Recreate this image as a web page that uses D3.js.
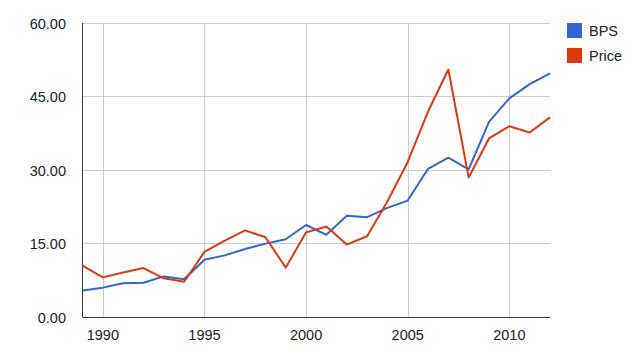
<!DOCTYPE html>
<html><head><meta charset="utf-8">
<script src="https://cdn.jsdelivr.net/npm/d3@7"></script>
<style>body{margin:0;background:#fff}svg{display:block}</style>
</head><body>
<svg id="c" width="640" height="357"></svg>
<script>
const years = [1989,1990,1991,1992,1993,1994,1995,1996,1997,1998,1999,2000,2001,2002,2003,2004,2005,2006,2007,2008,2009,2010,2011,2012];
const bps =   [5.3,5.9,6.8,6.9,8.2,7.6,11.6,12.5,13.8,14.9,15.8,18.7,16.7,20.6,20.3,22.2,23.7,30.2,32.5,30.1,39.8,44.6,47.5,49.7];
const price = [10.4,8.0,9.0,9.9,7.8,7.1,13.2,15.5,17.6,16.2,10.0,17.2,18.4,14.7,16.4,23.5,31.6,41.9,50.5,28.4,36.4,38.9,37.6,40.7];
const seriesNames = ["BPS","Price"];
const colors = ["#3366cc","#dc3912"];
const yTicks = [0,15,30,45,60];
const xTicks = [1990,1995,2000,2005,2010];

const svg = d3.select("#c");
const L=82.5, R=550, T=23, B=316.5;
const x = d3.scaleLinear().domain([1989,2012]).range([L,R]);
const y = d3.scaleLinear().domain([0,60]).range([B,T]);
const font = "'Liberation Sans', Arial, sans-serif";
const fs = 14.5;

// grid
svg.append("g").selectAll("line").data(yTicks.slice(1)).join("line")
  .attr("x1",L).attr("x2",R).attr("y1",d=>Math.round(y(d))+0.5).attr("y2",d=>Math.round(y(d))+0.5)
  .attr("stroke","#cccccc").attr("stroke-width",1);
svg.append("g").selectAll("line").data(xTicks).join("line")
  .attr("y1",T).attr("y2",B).attr("x1",d=>Math.round(x(d))+0.5).attr("x2",d=>Math.round(x(d))+0.5)
  .attr("stroke","#cccccc").attr("stroke-width",1);

// axes lines
svg.append("line").attr("x1",L).attr("x2",L).attr("y1",T).attr("y2",B+0.5).attr("stroke","#333").attr("stroke-width",1);
svg.append("line").attr("x1",L).attr("x2",R).attr("y1",Math.round(B)+0.5).attr("y2",Math.round(B)+0.5).attr("stroke","#333").attr("stroke-width",1);

// tick labels
svg.append("g").selectAll("text").data(yTicks).join("text")
  .attr("x",66).attr("y",d=>y(d)+6).attr("text-anchor","end")
  .attr("font-family",font).attr("font-size",fs).attr("fill","#222")
  .text(d=>d3.format(".2f")(d));
svg.append("g").selectAll("text").data(xTicks).join("text")
  .attr("x",d=>x(d)).attr("y",340).attr("text-anchor","middle")
  .attr("font-family",font).attr("font-size",fs).attr("fill","#222")
  .text(d=>d);

// lines
const data = [bps, price];
const line = d3.line().x((d,i)=>x(years[i])).y(d=>y(d));
svg.append("g").selectAll("path").data(data).join("path")
  .attr("d",line).attr("fill","none").attr("stroke",(d,i)=>colors[i])
  .attr("stroke-width",2).attr("stroke-linejoin","round");

// legend
const lg = svg.append("g").selectAll("g").data(seriesNames).join("g")
  .attr("transform",(d,i)=>`translate(567,${23+i*25})`);
lg.append("rect").attr("width",15).attr("height",15).attr("fill",(d,i)=>colors[i]);
lg.append("text").attr("x",22).attr("y",13).attr("font-family",font).attr("font-size",fs).attr("fill","#222").text(d=>d);
</script>
</body></html>
